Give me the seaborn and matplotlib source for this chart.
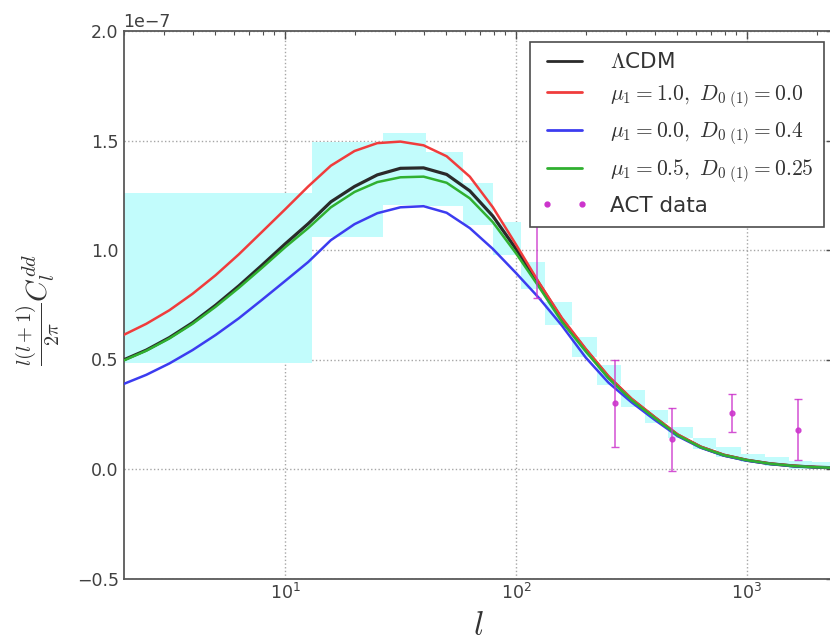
import numpy as np
import pandas as pd
import matplotlib
matplotlib.use("Agg")
import matplotlib.pyplot as plt
import seaborn as sns
from matplotlib.lines import Line2D

# ---------------- data (values in units of 1e-7) ----------------
SCALE = 1e-7
ell = [2.0, 2.51, 3.16, 3.98, 5.01, 6.31, 7.94, 10.0, 12.6, 15.8, 20.0, 25.1,
       31.6, 39.8, 50.1, 63.1, 79.4, 100, 126, 158, 200, 251, 316, 398, 501,
       631, 794, 1000, 1259, 1585, 1995, 2512]
lcdm = [0.498, 0.543, 0.600, 0.668, 0.748, 0.836, 0.930, 1.027, 1.120, 1.220,
        1.290, 1.343, 1.373, 1.375, 1.345, 1.270, 1.155, 1.005, 0.845, 0.683,
        0.545, 0.420, 0.318, 0.235, 0.155, 0.100, 0.063, 0.040, 0.024, 0.014,
        0.008, 0.005]
mu10 = [0.612, 0.663, 0.725, 0.800, 0.885, 0.980, 1.082, 1.185, 1.290, 1.385,
        1.452, 1.488, 1.495, 1.478, 1.428, 1.335, 1.195, 1.025, 0.850, 0.690,
        0.550, 0.425, 0.322, 0.238, 0.158, 0.102, 0.065, 0.041, 0.025, 0.015,
        0.009, 0.006]
mu00 = [0.388, 0.430, 0.482, 0.543, 0.612, 0.688, 0.772, 0.858, 0.945, 1.045,
        1.118, 1.168, 1.195, 1.200, 1.170, 1.100, 1.005, 0.895, 0.780, 0.655,
        0.510, 0.395, 0.305, 0.225, 0.150, 0.097, 0.061, 0.038, 0.023, 0.013,
        0.008, 0.005]
mu05 = [0.495, 0.540, 0.596, 0.663, 0.741, 0.827, 0.918, 1.012, 1.100, 1.195,
        1.265, 1.310, 1.332, 1.335, 1.307, 1.236, 1.127, 0.985, 0.830, 0.672,
        0.538, 0.415, 0.315, 0.233, 0.154, 0.099, 0.063, 0.040, 0.024, 0.014,
        0.008, 0.005]

labels = [r'$\Lambda$CDM',
          r'$\mu_1=1.0,\ D_{0\ (1)}=0.0$',
          r'$\mu_1=0.0,\ D_{0\ (1)}=0.4$',
          r'$\mu_1=0.5,\ D_{0\ (1)}=0.25$']
colors = ['#2a2a2a', '#f03c3c', '#3c3cf0', '#30b030']

# binned band (cyan boxes)
box_edges = [2, 13.1, 26.5, 40.8, 58.7, 79.8, 104.6, 134, 174, 224, 285, 362,
             456, 586, 737, 946, 1191, 1515, 1906, 2450]
box_low = [0.485, 1.061, 1.205, 1.200, 1.114, 0.977, 0.820, 0.658, 0.513,
           0.384, 0.284, 0.210, 0.140, 0.090, 0.055, 0.030, 0.015, 0.000, 0.000]
box_high = [1.262, 1.495, 1.536, 1.449, 1.307, 1.129, 0.947, 0.764, 0.604,
            0.475, 0.361, 0.270, 0.190, 0.140, 0.100, 0.070, 0.055, 0.035, 0.030]

# ACT data
act_l = [123, 268, 475, 859, 1667]
act_val = [1.20, 0.30, 0.136, 0.256, 0.18]
act_err = [0.42, 0.20, 0.143, 0.086, 0.14]
act_label = 'ACT data'
act_color = '#cc33cc'

# ---------------- style ----------------
sns.set_style("white")
plt.rcParams['font.family'] = ['DejaVu Sans']
plt.rcParams['mathtext.fontset'] = 'cm'

fig = plt.figure(figsize=(8.30, 6.41), dpi=100)
W, H = 830.0, 641.0
ax = fig.add_axes([123.5 / W, 1 - 578.5 / H, (834 - 123.5) / W, (578.5 - 31) / H])
ax.set_xscale('log')

# boxes
lefts = np.array(box_edges[:-1])
rights = np.array(box_edges[1:])
lo = np.array(box_low)
hi = np.array(box_high)
ax.bar(lefts, (hi - lo) * SCALE, width=rights - lefts, bottom=lo * SCALE,
       align='edge', color='#c2fcfc', edgecolor='none', zorder=1)

# curves
df = pd.DataFrame({
    'l': ell * 4,
    'value': np.concatenate([lcdm, mu10, mu00, mu05]) * SCALE,
    'model': sum([[lab] * len(ell) for lab in labels], []),
})
pal = dict(zip(labels, colors))
sns.lineplot(data=df[df.model == labels[0]], x='l', y='value', hue='model',
             palette=pal, estimator=None, linewidth=2.3, legend=False, ax=ax,
             zorder=3)
sns.lineplot(data=df[df.model != labels[0]], x='l', y='value', hue='model',
             palette=pal, estimator=None, linewidth=1.8, legend=False, ax=ax,
             zorder=3)

# ACT points
ax.errorbar(act_l, np.array(act_val) * SCALE, yerr=np.array(act_err) * SCALE,
            fmt='.', color=act_color, ecolor=act_color, ms=7, elinewidth=1.1,
            capsize=3, capthick=1, alpha=0.85, zorder=4)

# axes
ax.set_xlim(2, 2380)
ax.set_ylim(-0.5 * SCALE, 2.0 * SCALE)
ax.set_yticks(np.arange(-0.5, 2.01, 0.5) * SCALE)
ax.grid(True, which='major', linestyle=':', color='0.65', linewidth=1.0)
ax.set_axisbelow(True)
for s in ax.spines.values():
    s.set_color('0.35')
    s.set_linewidth(1.3)
ax.tick_params(axis='both', which='both', direction='in', colors='0.3',
               labelcolor='0.25', labelsize=12.5, top=True, right=True)
ax.tick_params(axis='both', which='major', length=6, width=1)
ax.tick_params(axis='x', which='minor', length=3, width=0.8)
ax.yaxis.get_offset_text().set_fontsize(12.5)
ax.yaxis.get_offset_text().set_color('0.25')

ax.set_xlabel(r'$l$', fontsize=24, color='0.2')
ax.xaxis.set_label_coords(0.5, -0.055)
ax.set_ylabel(r'$\frac{l(l+1)}{2\pi}C_l^{dd}$', fontsize=21, color='0.2')
ax.yaxis.set_label_coords(-0.086, 0.49)

# legend
handles = [Line2D([], [], color=c, lw=2.0) for c in colors]
handles.append(Line2D([], [], marker='.', ls='none', color=act_color, ms=7))
leg = ax.legend(handles, labels + [act_label], loc='upper right',
                bbox_to_anchor=(824 / W, 1 - 41.7 / H),
                bbox_transform=fig.transFigure, borderaxespad=0, numpoints=2,
                fontsize=15.5, frameon=True, fancybox=False, edgecolor='0.3',
                framealpha=1, labelspacing=0.5, handlelength=2.2,
                handletextpad=1.0, borderpad=0.5)
leg.get_frame().set_linewidth(1.2)
for t in leg.get_texts():
    t.set_color('0.2')
leg.set_zorder(10)

fig.savefig('out.png', dpi=100)
